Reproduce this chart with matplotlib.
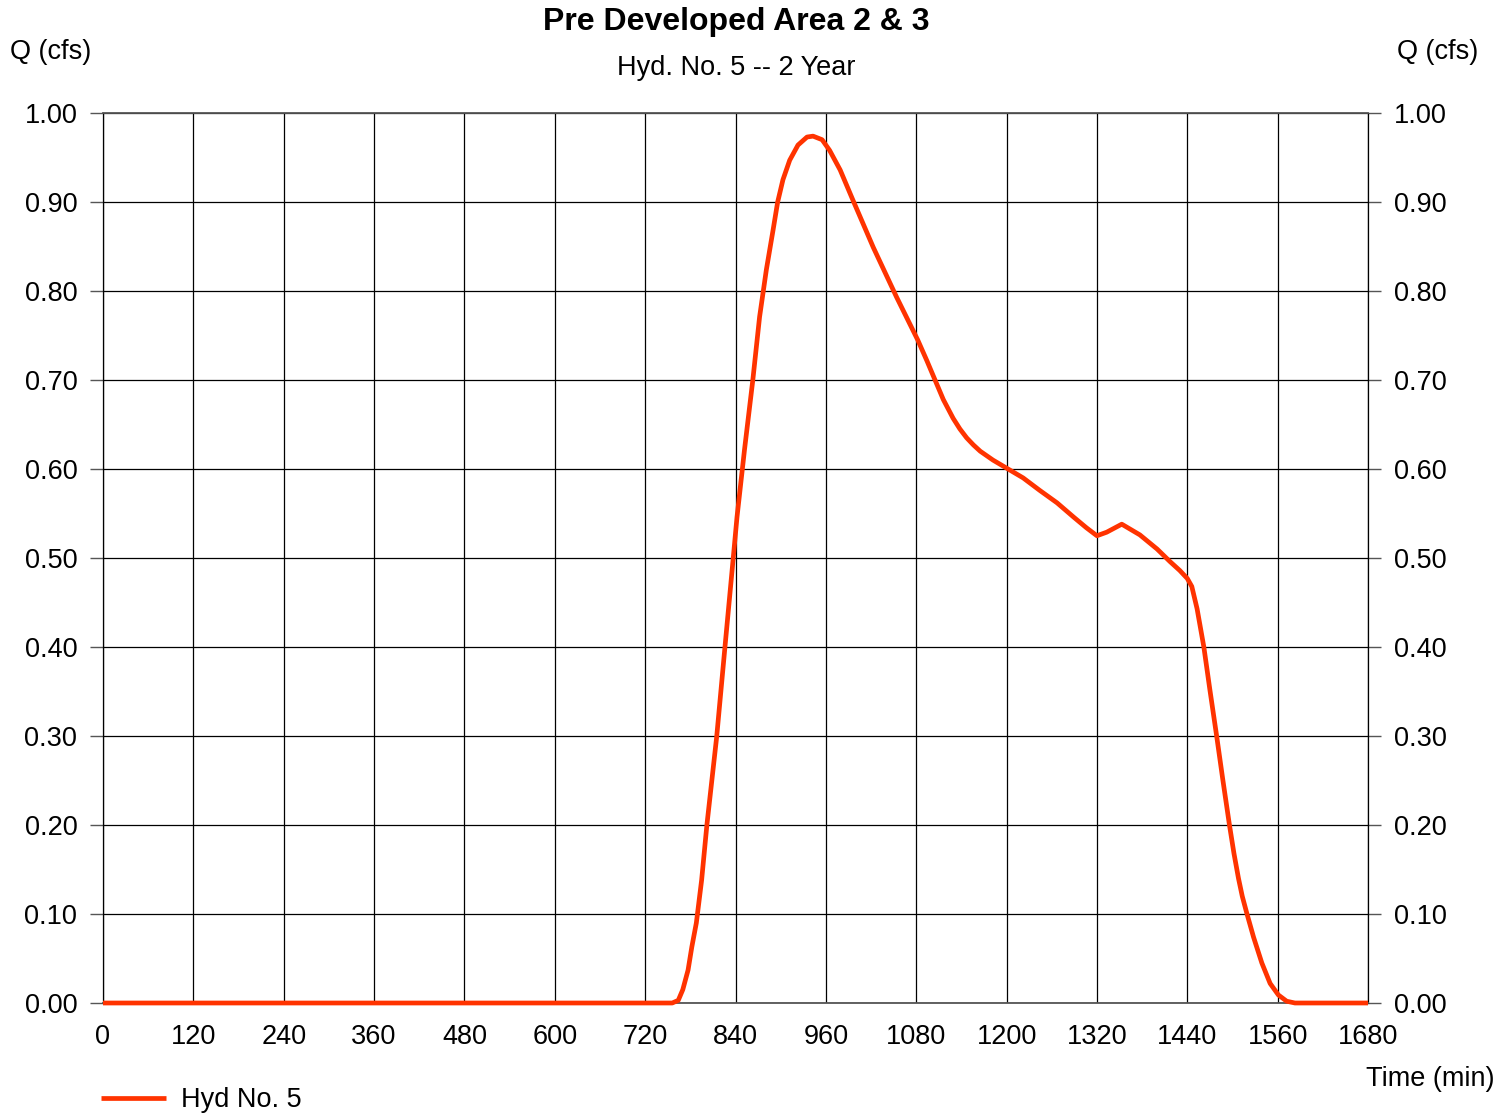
import matplotlib.pyplot as plt
from matplotlib.ticker import MultipleLocator, FormatStrFormatter

plt.rcParams["font.family"] = ["Liberation Sans", "DejaVu Sans"]

# hydrograph ordinates, Hyd No. 5 (time in min, Q in cfs)
time_min = [0, 756, 764, 770, 777, 782, 788, 795, 802, 815, 826, 837, 842,
            852, 863, 872, 881, 890, 896, 903, 912, 923, 935, 943, 955, 965,
            979, 996, 1023, 1054, 1082, 1094, 1105, 1116, 1129, 1138, 1147,
            1156, 1165, 1182, 1200, 1222, 1244, 1267, 1289, 1306, 1320, 1333,
            1353, 1377, 1400, 1417, 1430, 1440, 1446, 1453, 1462, 1470, 1479,
            1487, 1496, 1502, 1508, 1513, 1519, 1528, 1539, 1550, 1561, 1572,
            1583, 1680]
flow_cfs = [0.0, 0.0, 0.003, 0.015, 0.037, 0.063, 0.090, 0.138, 0.200,
            0.299, 0.400, 0.500, 0.546, 0.622, 0.700, 0.771, 0.824, 0.869,
            0.900, 0.925, 0.947, 0.964, 0.973, 0.974, 0.970, 0.958, 0.936,
            0.902, 0.849, 0.793, 0.745, 0.722, 0.700, 0.678, 0.657, 0.645,
            0.635, 0.627, 0.620, 0.610, 0.601, 0.590, 0.576, 0.562, 0.546,
            0.534, 0.525, 0.529, 0.538, 0.526, 0.510, 0.496, 0.486, 0.477,
            0.468, 0.443, 0.400, 0.352, 0.300, 0.252, 0.200, 0.168, 0.140,
            0.120, 0.101, 0.074, 0.045, 0.022, 0.009, 0.002, 0.0, 0.0]

W, H = 1512, 1114
fig = plt.figure(figsize=(W / 100, H / 100), dpi=100)
ax = fig.add_axes([103 / W, 1 - 1003 / H, (1368 - 103) / W, (1003 - 113) / H])

line, = ax.plot(time_min, flow_cfs, color="#ff3300", lw=3.4, clip_on=False,
                zorder=5, solid_joinstyle="round", solid_capstyle="butt",
                label="Hyd No. 5")

ax.set_xlim(0, 1680)
ax.set_ylim(0, 1.0)
ax.xaxis.set_major_locator(MultipleLocator(120))
ax.yaxis.set_major_locator(MultipleLocator(0.1))
ax.yaxis.set_major_formatter(FormatStrFormatter("%.2f"))
ax.grid(True, color="black", lw=0.9)
ax.set_axisbelow(True)

for side in ("left", "right"):
    ax.spines[side].set_color("black")
    ax.spines[side].set_linewidth(0.9)
for side in ("top", "bottom"):
    ax.spines[side].set_color("#555555")
    ax.spines[side].set_linewidth(1.3)

ax.tick_params(axis="y", which="both", left=True, right=True,
               labelleft=True, labelright=True, length=9.5, width=1,
               color="#555555", pad=9, labelsize=19.5)
ax.tick_params(axis="x", length=0, pad=15, labelsize=19.5)

fig.text(736 / W, 1 - 22 / H, "Pre Developed Area 2 & 3", ha="center",
         va="center", fontsize=23, fontweight="bold")
fig.text(736 / W, 1 - 68 / H, "Hyd. No. 5 -- 2 Year", ha="center",
         va="center", fontsize=19.5)
fig.text(10 / W, 1 - 52 / H, "Q (cfs)", ha="left", va="center", fontsize=19.5)
fig.text(1478 / W, 1 - 52 / H, "Q (cfs)", ha="right", va="center",
         fontsize=19.5)
fig.text(1495 / W, 1 - 1079 / H, "Time (min)", ha="right", va="center",
         fontsize=19.5)

fig.legend(handles=[line], loc="center left",
           bbox_to_anchor=(101 / W, 1 - 1100 / H), frameon=False,
           borderpad=0, borderaxespad=0, handlelength=2.4, handletextpad=0.55,
           fontsize=19.5)

fig.savefig("out.png", dpi=100)
